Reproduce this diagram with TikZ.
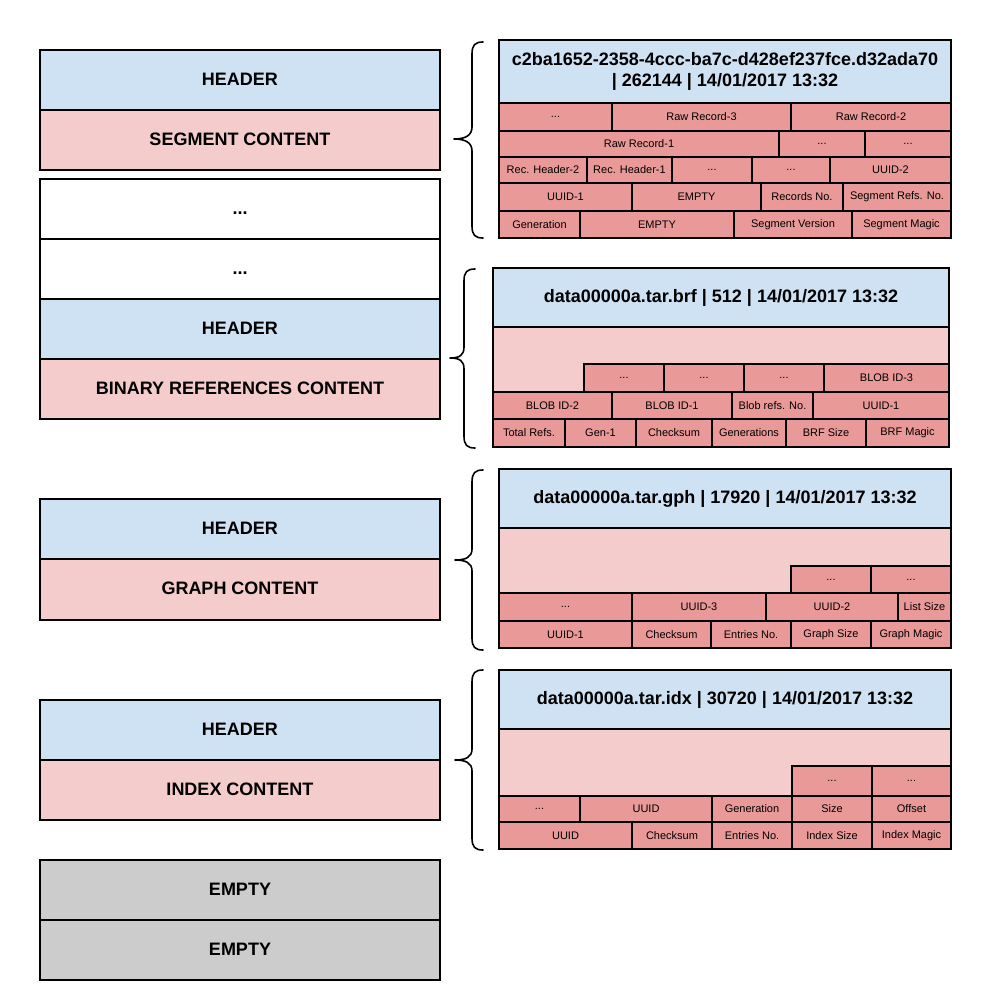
\documentclass[tikz,border=0pt]{standalone}
\usepackage{fontspec}
\setmainfont{Liberation Sans}
\definecolor{hdrblue}{HTML}{CFE2F3}
\definecolor{pinklt}{HTML}{F4CCCC}
\definecolor{pinkdk}{HTML}{EA9999}
\definecolor{graybox}{HTML}{CCCCCC}
\newcommand{\bx}[7]{\node[#1, minimum width={#5pt-#3pt}, minimum height={#6pt-#4pt}] (#2) at ({(#3+#5)/2},{(#4+#6)/2}) {#7};}
\tikzset{
  x=1pt, y=-1pt,
  base/.style={draw=black, line width=2pt, inner sep=0pt, outer sep=0pt, text=black, align=center},
  bigtxt/.style={font=\bfseries\fontsize{18}{21}\selectfont},
  lbl/.style={bigtxt, text height=13pt, text depth=3pt},
  hdr/.style={base, lbl, fill=hdrblue},
  phdr/.style={base, bigtxt, fill=hdrblue},
  cnt/.style={base, lbl, fill=pinklt},
  blank/.style={base, lbl, fill=white},
  grey/.style={base, lbl, fill=graybox},
  area/.style={base, fill=pinklt},
  cellc/.style={base, fill=pinkdk, font=\fontsize{11}{13}\selectfont},
  bracepath/.style={draw=black, line width=1.6pt, line cap=round, line join=round},
}
\begin{document}
\begin{tikzpicture}
\useasboundingbox (0,0) rectangle (991,1005);
% ---------- left column ----------
\bx{hdr}{lh1}{40}{50}{440}{110}{HEADER}
\bx{cnt}{lc1}{40}{110}{440}{170}{SEGMENT CONTENT}
\bx{blank}{ld1}{40}{179}{440}{239}{...}
\bx{blank}{ld2}{40}{239}{440}{299}{...}
\bx{hdr}{lh2}{40}{299}{440}{359}{HEADER}
\bx{cnt}{lc2}{40}{359}{440}{419}{BINARY REFERENCES CONTENT}
\bx{hdr}{lh3}{40}{499}{440}{559}{HEADER}
\bx{cnt}{lc3}{40}{559}{440}{620}{GRAPH CONTENT}
\bx{hdr}{lh4}{40}{700}{440}{760}{HEADER}
\bx{cnt}{lc4}{40}{760}{440}{820}{INDEX CONTENT}
\bx{grey}{le1}{40}{860}{440}{920}{EMPTY}
\bx{grey}{le2}{40}{920}{440}{980}{EMPTY}
% ---------- panel 1: segment ----------
\bx{phdr}{sh}{499}{40}{951}{103}{c2ba1652-2358-4ccc-ba7c-d428ef237fce.d32ada70\\| 262144 | 14/01/2017 13:32}
\bx{cellc}{s11}{499}{103}{612}{131}{...}
\bx{cellc}{s12}{612}{103}{791}{131}{Raw Record-3}
\bx{cellc}{s13}{791}{103}{951}{131}{Raw Record-2}
\bx{cellc}{s21}{499}{131}{779}{157}{Raw Record-1}
\bx{cellc}{s22}{779}{131}{865}{157}{...}
\bx{cellc}{s23}{865}{131}{951}{157}{...}
\bx{cellc}{s31}{499}{157}{587}{183}{Rec. Header-2}
\bx{cellc}{s32}{587}{157}{672}{183}{Rec. Header-1}
\bx{cellc}{s33}{672}{157}{752}{183}{...}
\bx{cellc}{s34}{752}{157}{830}{183}{...}
\bx{cellc}{s35}{830}{157}{951}{183}{UUID-2}
\bx{cellc}{s41}{499}{183}{632}{211}{UUID-1}
\bx{cellc}{s42}{632}{183}{761}{211}{EMPTY}
\bx{cellc}{s43}{761}{183}{843}{211}{Records No.}
\bx{cellc}{s44}{843}{183}{951}{211}{Segment Refs. No.}
\bx{cellc}{s51}{499}{211}{580}{238}{Generation}
\bx{cellc}{s52}{580}{211}{734}{238}{EMPTY}
\bx{cellc}{s53}{734}{211}{852}{238}{Segment Version}
\bx{cellc}{s54}{852}{211}{951}{238}{Segment Magic}
% ---------- panel 2: brf ----------
\bx{phdr}{bh}{493}{268}{949}{327}{data00000a.tar.brf | 512 | 14/01/2017 13:32}
\bx{area}{ba}{493}{327}{949}{447}{}
\bx{cellc}{b11}{584}{364}{664}{392}{...}
\bx{cellc}{b12}{664}{364}{744}{392}{...}
\bx{cellc}{b13}{744}{364}{824}{392}{...}
\bx{cellc}{b14}{824}{364}{949}{392}{BLOB ID-3}
\bx{cellc}{b21}{493}{392}{612}{419}{BLOB ID-2}
\bx{cellc}{b22}{612}{392}{732}{419}{BLOB ID-1}
\bx{cellc}{b23}{732}{392}{813}{419}{Blob refs. No.}
\bx{cellc}{b24}{813}{392}{949}{419}{UUID-1}
\bx{cellc}{b31}{493}{419}{565}{447}{Total Refs.}
\bx{cellc}{b32}{565}{419}{636}{447}{Gen-1}
\bx{cellc}{b33}{636}{419}{712}{447}{Checksum}
\bx{cellc}{b34}{712}{419}{786}{447}{Generations}
\bx{cellc}{b35}{786}{419}{866}{447}{BRF Size}
\bx{cellc}{b36}{866}{419}{949}{447}{BRF Magic}
% ---------- panel 3: gph ----------
\bx{phdr}{gh}{499}{469}{951}{528}{data00000a.tar.gph | 17920 | 14/01/2017 13:32}
\bx{area}{ga}{499}{528}{951}{648}{}
\bx{cellc}{g11}{791}{566}{871}{593}{...}
\bx{cellc}{g12}{871}{566}{951}{593}{...}
\bx{cellc}{g21}{499}{593}{632}{621}{...}
\bx{cellc}{g22}{632}{593}{766}{621}{UUID-3}
\bx{cellc}{g23}{766}{593}{898}{621}{UUID-2}
\bx{cellc}{g24}{898}{593}{951}{621}{List Size}
\bx{cellc}{g31}{499}{621}{632}{648}{UUID-1}
\bx{cellc}{g32}{632}{621}{711}{648}{Checksum}
\bx{cellc}{g33}{711}{621}{791}{648}{Entries No.}
\bx{cellc}{g34}{791}{621}{871}{648}{Graph Size}
\bx{cellc}{g35}{871}{621}{951}{648}{Graph Magic}
% ---------- panel 4: idx ----------
\bx{phdr}{ih}{499}{670}{951}{729}{data00000a.tar.idx | 30720 | 14/01/2017 13:32}
\bx{area}{ia}{499}{729}{951}{849}{}
\bx{cellc}{i11}{792}{766}{872}{796}{...}
\bx{cellc}{i12}{872}{766}{951}{796}{...}
\bx{cellc}{i21}{499}{796}{580}{822}{...}
\bx{cellc}{i22}{580}{796}{712}{822}{UUID}
\bx{cellc}{i23}{712}{796}{792}{822}{Generation}
\bx{cellc}{i24}{792}{796}{872}{822}{Size}
\bx{cellc}{i25}{872}{796}{951}{822}{Offset}
\bx{cellc}{i31}{499}{822}{632}{849}{UUID}
\bx{cellc}{i32}{632}{822}{712}{849}{Checksum}
\bx{cellc}{i33}{712}{822}{792}{849}{Entries No.}
\bx{cellc}{i34}{792}{822}{872}{849}{Index Size}
\bx{cellc}{i35}{872}{822}{951}{849}{Index Magic}
% ---------- braces ----------
\draw[bracepath] (483,42) .. controls (475,42) and (472,45) .. (472,54) -- (472,127) .. controls (472,135) and (466,139) .. (454,139) .. controls (466,139) and (472,143) .. (472,151) -- (472,226) .. controls (472,235) and (475,238) .. (483,238);
\draw[bracepath] (475,269) .. controls (467,269) and (464,272) .. (464,281) -- (464,347) .. controls (464,355) and (460,358) .. (450,358) .. controls (460,358) and (464,361) .. (464,369) -- (464,436) .. controls (464,445) and (467,448) .. (475,448);
\draw[bracepath] (483,470) .. controls (475,470) and (472,473) .. (472,482) -- (472,549) .. controls (472,557) and (466,560) .. (455,560) .. controls (466,560) and (472,563) .. (472,571) -- (472,638) .. controls (472,647) and (475,650) .. (483,650);
\draw[bracepath] (483,670) .. controls (475,670) and (472,673) .. (472,682) -- (472,749) .. controls (472,757) and (466,760) .. (455,760) .. controls (466,760) and (472,763) .. (472,771) -- (472,838) .. controls (472,847) and (475,850) .. (483,850);
\end{tikzpicture}
\end{document}
